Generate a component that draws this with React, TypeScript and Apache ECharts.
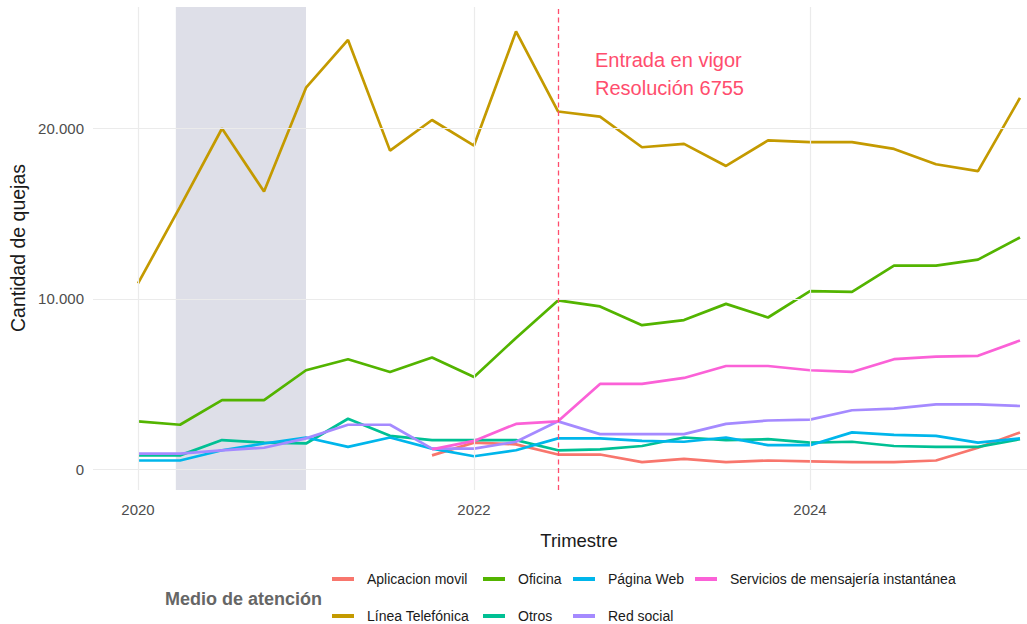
import React, { useEffect, useRef } from "react";
import * as echarts from "echarts";

// Quarters (decimal year): 2020-T1 ... 2025-T2
const trimestres = [
  2020, 2020.25, 2020.5, 2020.75, 2021, 2021.25, 2021.5, 2021.75, 2022, 2022.25, 2022.5,
  2022.75, 2023, 2023.25, 2023.5, 2023.75, 2024, 2024.25, 2024.5, 2024.75, 2025, 2025.25,
];

const seriesNames = [
  "Aplicacion movil",
  "Línea Telefónica",
  "Oficina",
  "Otros",
  "Página Web",
  "Red social",
  "Servicios de mensajería instantánea",
];
const seriesColors = ["#F8766D", "#C49A00", "#53B400", "#00C094", "#00B6EB", "#A58AFF", "#FB61D7"];

const aplicacionMovil = [
  null, null, null, null, null, null, null, 800, 1550, 1450, 850,
  850, 400, 600, 400, 500, 450, 400, 400, 500, 1250, 2150,
];
const lineaTelefonica = [
  10900, 15400, 20000, 16300, 22400, 25200, 18700, 20500, 19000, 25700, 21000,
  20700, 18900, 19100, 17800, 19300, 19200, 19200, 18800, 17900, 17500, 21800,
];
const oficina = [
  2800, 2600, 4050, 4050, 5800, 6450, 5700, 6550, 5400, 7700, 9900,
  9550, 8450, 8750, 9700, 8900, 10450, 10400, 11950, 11950, 12300, 13600,
];
const otros = [
  800, 800, 1700, 1550, 1500, 2950, 1950, 1700, 1700, 1700, 1100,
  1150, 1350, 1850, 1700, 1750, 1550, 1600, 1350, 1300, 1300, 1750,
];
const paginaWeb = [
  500, 500, 1100, 1500, 1850, 1300, 1850, 1200, 750, 1100, 1800,
  1800, 1650, 1600, 1850, 1400, 1400, 2150, 2000, 1950, 1550, 1800,
];
const redSocial = [
  900, 900, 1100, 1250, 1800, 2600, 2600, 1200, 1200, 1600, 2800,
  2050, 2050, 2050, 2650, 2850, 2900, 3450, 3550, 3800, 3800, 3700,
];
const servicios = [
  null, null, null, null, null, null, null, 1150, 1650, 2650, 2800,
  5000, 5000, 5350, 6050, 6050, 5800, 5700, 6450, 6600, 6650, 7550,
];

const xTicks = [2020, 2022, 2024];
const yTicks = [0, 10000, 20000];
const pandemiaInicio = 2020.225;
const pandemiaFin = 2021;
const resolucionFecha = 2022.5;

const FONT = "'Liberation Sans', Arial, sans-serif";

const fmtMiles = (v: number) => String(v).replace(/\B(?=(\d{3})+(?!\d))/g, ".");

export default function App() {
  const ref = useRef<HTMLDivElement>(null);

  useEffect(() => {
    const chart = echarts.init(ref.current!, null, { renderer: "svg" });
    const valuesBySeries = [aplicacionMovil, lineaTelefonica, oficina, otros, paginaWeb, redSocial, servicios];
    const toPairs = (vals: (number | null)[]) =>
      trimestres.map((t, i) => [t, vals[i]]).filter((p) => p[1] !== null);

    const lineSeries = seriesNames.map((name, i) => ({
      name,
      type: "line",
      data: toPairs(valuesBySeries[i]),
      showSymbol: false,
      symbol: "none",
      lineStyle: { width: 2.7, color: seriesColors[i] },
      itemStyle: { color: seriesColors[i] },
      emphasis: { disabled: true },
      z: 3,
    }));

    const legendCols = [[0, 1], [2, 3], [4, 5], [6]];
    const legendLeft = [332, 483, 573, 695];

    chart.setOption({
      animation: false,
      backgroundColor: "#ffffff",
      grid: { left: 93, right: 0, top: 7, bottom: 134, containLabel: false },
      xAxis: {
        type: "value",
        min: 2019.732,
        max: 2025.2917,
        axisLine: { show: false },
        axisTick: { show: false },
        splitLine: { show: false },
        axisLabel: {
          customValues: xTicks,
          color: "#4d4d4d",
          fontSize: 15,
          fontFamily: FONT,
          margin: 12,
          formatter: (v: number) => String(v),
        },
      },
      yAxis: {
        type: "value",
        min: -1233,
        max: 27137,
        axisLine: { show: false },
        axisTick: { show: false },
        splitLine: { show: false },
        axisLabel: {
          customValues: yTicks,
          color: "#4d4d4d",
          fontSize: 15,
          fontFamily: FONT,
          margin: 9,
          formatter: (v: number) => fmtMiles(v),
        },
      },
      legend: legendCols.map((idxs, c) => ({
        orient: "vertical",
        left: legendLeft[c],
        top: 572,
        padding: 0,
        itemGap: 23,
        itemWidth: 22,
        itemHeight: 4,
        icon: "rect",
        selectedMode: false,
        data: idxs.map((i) => seriesNames[i]),
        textStyle: { fontSize: 14, color: "#1a1a1a", fontFamily: FONT, padding: [0, 0, 0, 8], lineHeight: 14 },
      })),
      series: [
        {
          type: "line",
          data: [],
          silent: true,
          z: 1,
          markLine: {
            silent: true,
            symbol: ["none", "none"],
            label: { show: false },
            lineStyle: { color: "#ebebeb", width: 1.2, type: "solid" },
            data: [...xTicks.map((v) => ({ xAxis: v })), ...yTicks.map((v) => ({ yAxis: v }))],
          },
        },
        {
          type: "line",
          data: [],
          silent: true,
          z: 2,
          markArea: {
            silent: true,
            itemStyle: { color: "rgba(60,65,120,0.17)" },
            data: [[{ xAxis: pandemiaInicio }, { xAxis: pandemiaFin }]],
          },
        },
        ...lineSeries,
        {
          type: "line",
          data: [],
          silent: true,
          z: 4,
          markLine: {
            silent: true,
            symbol: ["none", "none"],
            label: { show: false },
            lineStyle: { color: "#ff4d6d", width: 1.3, type: [5, 3.5] },
            data: [{ xAxis: resolucionFecha }],
          },
        },
      ],
      graphic: [
        {
          type: "text",
          x: 18,
          y: 248,
          rotation: Math.PI / 2,
          style: {
            text: "Cantidad de quejas",
            font: `19.5px ${FONT}`,
            fill: "#1a1a1a",
            textAlign: "center",
            textVerticalAlign: "middle",
          },
        },
        {
          type: "text",
          x: 579,
          y: 540,
          style: {
            text: "Trimestre",
            font: `18.5px ${FONT}`,
            fill: "#1a1a1a",
            textAlign: "center",
            textVerticalAlign: "middle",
          },
        },
        {
          type: "text",
          x: 165,
          y: 599,
          style: {
            text: "Medio de atención",
            font: `bold 18px ${FONT}`,
            fill: "#666666",
            textAlign: "left",
            textVerticalAlign: "middle",
          },
        },
        {
          type: "text",
          x: 595,
          y: 60,
          style: {
            text: "Entrada en vigor",
            font: `20px ${FONT}`,
            fill: "#ff4d6d",
            textAlign: "left",
            textVerticalAlign: "middle",
          },
        },
        {
          type: "text",
          x: 595,
          y: 88,
          style: {
            text: "Resolución 6755",
            font: `20px ${FONT}`,
            fill: "#ff4d6d",
            textAlign: "left",
            textVerticalAlign: "middle",
          },
        },
      ],
    });

    return () => chart.dispose();
  }, []);

  return (
    <div
      ref={ref}
      style={{ position: "absolute", left: 0, top: 0, width: 1027, height: 624, background: "#fff" }}
    />
  );
}
